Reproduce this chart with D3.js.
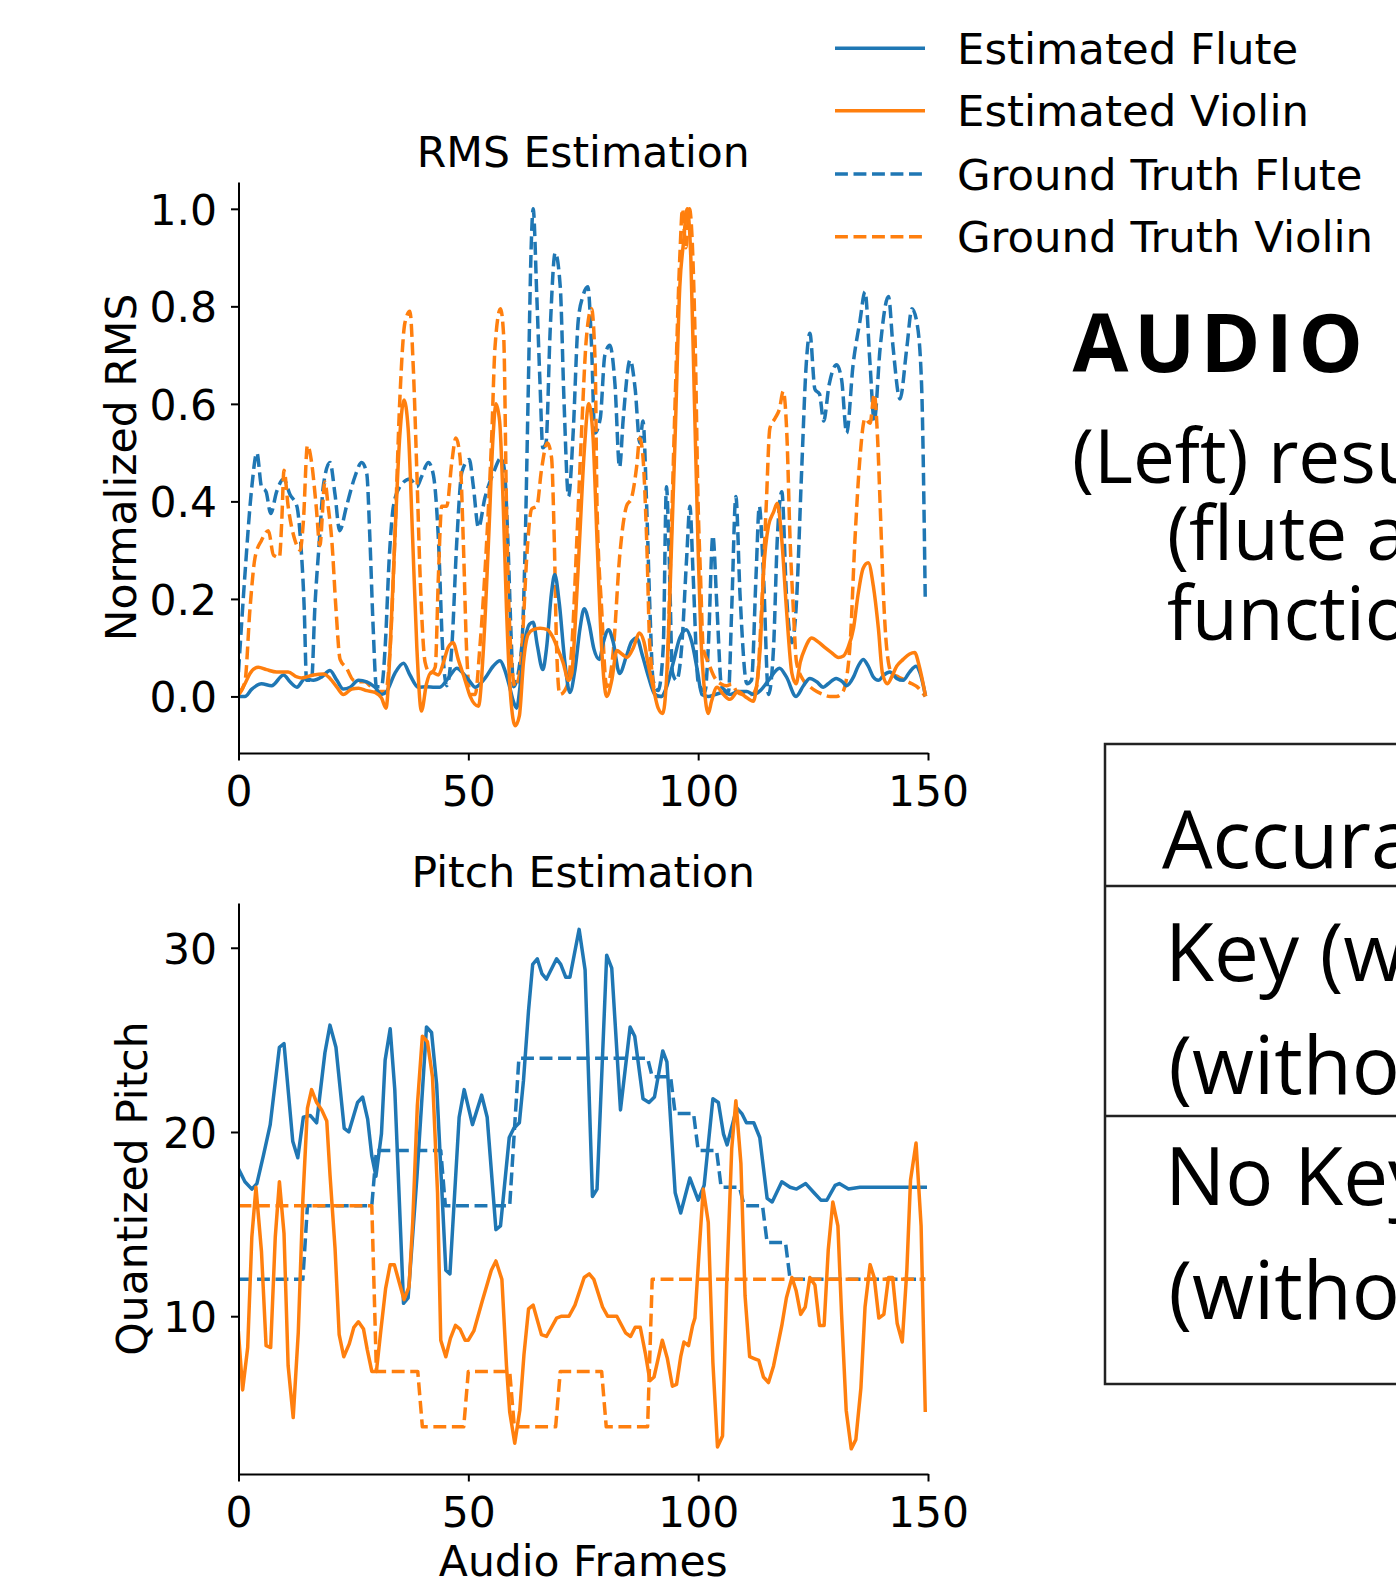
<!DOCTYPE html>
<html><head><meta charset="utf-8">
<script src="https://cdn.jsdelivr.net/npm/d3@7"></script>
<style>html,body{margin:0;padding:0;background:#fff;} svg{display:block}</style>
</head><body>
<script>
// ---------- data (frame, value) ----------
const frameTicks = [0, 50, 100, 150];
const rmsTicks = [0, 0.2, 0.4, 0.6, 0.8, 1.0];
const pitchTicks = [10, 20, 30];
const seriesNames = ["Estimated Flute", "Estimated Violin", "Ground Truth Flute", "Ground Truth Violin"];

const rmsEstFlute = [[0,0],[1.4,0],[2.9,0.015],[5,0.026],[7.2,0.022],[9.8,0.044],[11.2,0.03],[12.7,0.019],[14.5,0.037],[16.3,0.033],[18.1,0.04],[19.9,0.053],[21.4,0.033],[22.8,0.015],[24.3,0.019],[26.1,0.033],[27.9,0.03],[29.7,0.019],[31.1,0.004],[32.2,0.01],[34,0.047],[35.9,0.068],[37.3,0.044],[39.1,0.019],[40.9,0.02],[42.7,0.019],[43.8,0.019],[45.6,0.037],[47.5,0.058],[48.9,0.047],[50.4,0.03],[51.5,0.019],[53.6,0.037],[55.4,0.062],[56.9,0.073],[57.9,0.055],[59,0.019],[59.8,-0.01],[60.5,-0.024],[61.4,0.033],[62.3,0.112],[63.3,0.148],[64.1,0.152],[65,0.105],[66.2,0.055],[67,0.098],[68.1,0.213],[68.8,0.25],[69.8,0.19],[71,0.07],[72.1,0.008],[73.2,0.055],[74.3,0.14],[75.2,0.18],[76.3,0.148],[77.3,0.098],[78.5,0.076],[79.4,0.112],[80.5,0.137],[81.5,0.112],[82.9,0.047],[84.4,0.083],[85.5,0.112],[86.6,0.12],[87.9,0.083],[89.2,0.04],[90.6,0.004],[92,0],[93.1,0.019],[94.6,0.07],[96,0.12],[97.4,0.137],[98.6,0.112],[99.8,0.055],[100.8,0.004],[102.2,0],[103.7,0.004],[105.5,0.008],[106.9,0.004],[108.7,0.01],[110.6,0.01],[112,0.004],[113.5,0.012],[115.3,0.033],[117.7,0.058],[119.2,0.04],[121.3,0],[122.9,0.022],[124.3,0.037],[125.8,0.03],[127.2,0.019],[128.3,0.026],[130,0.037],[131.4,0.03],[132.3,0.022],[133.8,0.04],[134.8,0.062],[135.9,0.076],[137,0.062],[138.1,0.04],[139.2,0.033],[140.4,0.044],[141.7,0.05],[143.2,0.037],[144.6,0.033],[146,0.05],[147.4,0.062],[148.2,0.05],[149.4,0.004]];

const rmsEstViolin = [[0,0.004],[1.4,0.026],[2.5,0.047],[4.3,0.06],[6.1,0.055],[8.3,0.05],[10.8,0.05],[12.7,0.04],[13.7,0.038],[16.3,0.044],[18.5,0.046],[19.9,0.037],[21.4,0.019],[22.8,0.004],[24.6,0.015],[26.1,0.017],[27.9,0.012],[29.7,0.008],[31.1,-0.003],[32.1,-0.024],[33,0.1],[34,0.32],[35.1,0.536],[36,0.608],[36.9,0.55],[37.9,0.32],[38.8,0.1],[39.8,-0.03],[40.9,0.026],[42,0.05],[43.5,0.044],[44.6,0.07],[45.6,0.1],[46.7,0.11],[47.8,0.076],[49.3,0.033],[50.4,0],[52.2,-0.02],[53.3,0.1],[54.4,0.32],[55.4,0.536],[56,0.6],[56.8,0.565],[57.6,0.39],[58.3,0.18],[59.2,0],[60.2,-0.06],[61.1,-0.04],[62,0.07],[63,0.127],[64.1,0.137],[65.6,0.14],[67.2,0.137],[68.3,0.123],[69.6,0.094],[70.6,0.07],[71.8,0.033],[72.5,0.047],[73.2,0.14],[74.2,0.32],[75.2,0.5],[76.2,0.6],[77.1,0.536],[78,0.32],[79,0.1],[80.1,0],[81.2,0.033],[82.3,0.094],[83.4,0.087],[84.5,0.08],[85.9,0.1],[87.2,0.13],[88.2,0.112],[89.2,0.062],[90.2,0.019],[91.3,-0.024],[92.3,-0.035],[93.1,0.033],[94,0.25],[95,0.536],[96,0.84],[96.8,0.93],[97.6,1.0],[98.4,0.9],[99.2,0.6],[100,0.3],[100.6,0.12],[101.3,0.02],[102.2,-0.035],[102.9,-0.01],[104.1,0.019],[105.5,0.004],[106.9,-0.006],[108.7,0.01],[110.2,0],[112,-0.01],[112.7,0.02],[113.5,0.1],[114.2,0.25],[115.3,0.35],[116.4,0.378],[117.2,0.396],[118.2,0.32],[119.2,0.18],[120.4,0.047],[121.3,0.026],[122.2,0.07],[123.3,0.1],[124.7,0.12],[126.1,0.112],[127.6,0.1],[129,0.09],[130.5,0.08],[131.6,0.083],[132.6,0.1],[133.8,0.14],[134.8,0.21],[135.9,0.263],[137,0.274],[138.1,0.227],[139.2,0.14],[140.1,0.047],[141.2,0.026],[142.1,0.04],[143.2,0.062],[144.6,0.076],[146,0.087],[147.1,0.09],[148.1,0.062],[149.4,0.004]];

const rmsGtFlute = [[0,0.05],[1.4,0.25],[2.9,0.43],[4,0.5],[5,0.43],[6,0.42],[7,0.375],[8.3,0.42],[9.8,0.446],[11.2,0.414],[12.7,0.39],[13.5,0.32],[14.3,0.18],[14.8,0.033],[15.9,0.033],[16.6,0.18],[17.6,0.32],[18.5,0.435],[19.9,0.48],[21,0.414],[22,0.34],[23.5,0.39],[25.3,0.45],[26.8,0.48],[27.9,0.457],[28.6,0.32],[29.3,0.14],[30,0.02],[31.1,0.02],[31.9,0.1],[32.8,0.285],[33.7,0.39],[35.1,0.43],[37.3,0.446],[38.8,0.43],[39.8,0.45],[41.3,0.48],[42.4,0.454],[43.5,0.32],[44.4,0.1],[45.3,0.022],[46.4,0.1],[47.5,0.32],[48.6,0.46],[50.2,0.486],[51.1,0.43],[52.2,0.346],[53.6,0.407],[55.4,0.457],[57.2,0.49],[57.9,0.46],[58.6,0.32],[59.4,0.1],[59.8,0.02],[61.6,0.1],[62.3,0.285],[63,0.61],[63.7,0.93],[64.1,1.0],[64.9,0.82],[65.6,0.64],[66.2,0.51],[66.9,0.52],[67.8,0.75],[68.9,0.91],[70,0.84],[70.8,0.61],[71.8,0.41],[72.8,0.54],[73.9,0.77],[74.9,0.82],[76,0.84],[76.8,0.72],[77.5,0.54],[78.7,0.57],[79.7,0.7],[80.8,0.72],[81.9,0.64],[82.9,0.47],[83.7,0.57],[85.2,0.69],[86.3,0.63],[87.3,0.52],[88,0.565],[88.8,0.39],[89.5,0.18],[90.2,0.033],[91.3,0.012],[92.4,0.1],[93.1,0.43],[93.7,0.285],[94.4,0.05],[95.3,0.033],[96.4,0.1],[97.5,0.285],[98.2,0.39],[98.9,0.25],[100,0.03],[101.5,0.01],[102.2,0.1],[103.2,0.33],[104.1,0.18],[105.1,0.02],[106.6,0.01],[107.3,0.18],[108.2,0.41],[109.1,0.21],[110.6,0.026],[111.6,0.033],[112.6,0.25],[113.3,0.39],[114.2,0.25],[115.3,0.004],[116.4,0.1],[117.2,0.32],[118.2,0.42],[119.2,0.21],[120.4,0.11],[121.3,0.18],[122.5,0.46],[123.5,0.68],[124.3,0.745],[125.4,0.63],[126.4,0.62],[127.3,0.565],[128.5,0.64],[130.1,0.68],[131.2,0.65],[132.3,0.54],[133.7,0.68],[135.2,0.77],[136.3,0.83],[137.4,0.68],[138.3,0.565],[139.6,0.716],[141.4,0.82],[142.4,0.716],[143.9,0.61],[145.4,0.716],[146.5,0.795],[147.6,0.766],[148.6,0.64],[149.4,0.2]];

const rmsGtViolin = [[0,0.004],[1.4,0.03],[2.5,0.18],[3.6,0.285],[5,0.32],[6.5,0.34],[7.6,0.29],[8.9,0.285],[9.4,0.357],[9.9,0.464],[10.8,0.39],[12.3,0.32],[13.4,0.3],[14.1,0.357],[15,0.515],[15.9,0.48],[16.9,0.39],[17.7,0.31],[18.8,0.44],[19.5,0.39],[20.3,0.32],[21.2,0.18],[22.1,0.076],[23.5,0.058],[25,0.033],[26.1,0.03],[27.5,0.03],[28.6,0.022],[30,0.01],[32,0.01],[33,0.1],[34,0.32],[35.1,0.61],[36.2,0.766],[37.3,0.79],[38,0.68],[38.8,0.46],[39.5,0.25],[40.6,0.07],[41.7,0.047],[42.8,0.06],[43.5,0.25],[44.2,0.39],[45.3,0.39],[46.4,0.48],[47.3,0.53],[48.2,0.49],[48.9,0.32],[49.6,0.1],[50.4,0.004],[51.5,0.004],[52.5,0.1],[54,0.32],[55.1,0.536],[55.8,0.716],[57,0.795],[57.7,0.737],[58.3,0.39],[59.2,0.1],[60.2,0.02],[61.2,0.05],[61.9,0.14],[62.7,0.285],[63.8,0.385],[64.9,0.39],[65.9,0.464],[67.2,0.52],[68.1,0.49],[68.7,0.32],[69.2,0.1],[69.9,0.004],[71.4,0.02],[72.5,0.1],[73.6,0.32],[74.6,0.536],[75.7,0.737],[76.8,0.795],[77.6,0.68],[78,0.39],[79,0.18],[80.1,0.02],[81.5,0.09],[82.9,0.285],[84.4,0.39],[85.5,0.407],[86.6,0.47],[87.3,0.53],[88,0.49],[88.8,0.32],[89.5,0.1],[91,0],[92,0],[93.1,0.02],[93.9,0.25],[95,0.61],[96,0.9],[96.6,1.0],[97.3,0.92],[98.1,1.0],[99.3,0.75],[100,0.39],[100.5,0.25],[101.1,0.1],[102.2,0.07],[103.5,0.04],[105.1,0.025],[106.2,0.022],[107.3,0.025],[108.4,0.01],[109.5,0.004],[111.6,0.004],[112.7,0.02],[113.8,0.18],[114.8,0.39],[115.6,0.55],[116.7,0.57],[117.7,0.59],[118.5,0.626],[119.3,0.536],[120,0.32],[120.7,0.18],[121.4,0.07],[122.9,0.033],[124.3,0.02],[125.8,0.01],[127.2,0.004],[128.7,0],[130.1,0],[131.5,0.01],[133,0.1],[134.1,0.32],[135.2,0.49],[136.3,0.57],[137.4,0.56],[138.3,0.62],[139,0.536],[139.6,0.39],[140.3,0.21],[141,0.1],[142.1,0.047],[143.6,0.04],[145,0.033],[146.5,0.026],[147.6,0.02],[148.6,0.01],[149.4,0]];

const pitchEstFlute = [[0,18],[1.4,17.3],[2.9,16.9],[4,17.2],[5.4,18.7],[6.9,20.4],[8.9,24.6],[9.9,24.8],[11.8,19.5],[12.9,18.6],[14.1,20.8],[15.6,20.9],[17,20.5],[18.8,24.3],[19.9,25.8],[21.2,24.6],[23,20.2],[24,20],[25.9,21.6],[27,21.9],[28.1,20.7],[29,18.7],[29.9,17.6],[31.1,19.9],[31.9,23.9],[33,25.6],[34,22.3],[35.9,10.7],[36.9,11],[38.8,17.5],[40.9,25.7],[42,25.4],[43.1,22.6],[45.1,12.5],[46,12.3],[48,20.8],[49.1,22.3],[50.9,20.4],[52.9,22],[54.1,20.8],[56,14.7],[57,14.9],[58.9,19.7],[59.9,20.2],[61.1,20.5],[62,22.8],[63.1,26.6],[64,29.1],[65,29.4],[66,28.6],[67,28.3],[69.2,29.4],[70.1,29.1],[71.2,28.4],[72.1,28.4],[74.1,31],[75.4,28.8],[77,16.5],[78,16.9],[80.1,29.6],[81.2,28.9],[83.1,21.2],[85.2,25.7],[86.2,25.2],[88,21.8],[89.3,21.6],[90.5,21.9],[92.3,24.4],[93.2,23.8],[95,16.7],[96.2,15.6],[98.2,17.5],[100,16.3],[101.3,17.1],[103.2,21.8],[104.4,21.6],[105.5,19.9],[106.3,19.3],[108.4,21.3],[109.5,21],[110.5,20.5],[112.1,20.5],[113.4,19.7],[115,16.4],[116.1,16.2],[118.2,17.3],[120,17],[121.4,16.9],[123.4,17.2],[125.2,16.7],[126.7,16.3],[128,16.3],[129.8,17.1],[130.7,17.2],[132.7,16.9],[135.2,17],[149.4,17]];

const pitchEstViolin = [[0,9.1],[0.9,6],[2,8.3],[2.9,14.3],[3.8,17],[5,13.5],[6,8.4],[7,8.3],[8,14.3],[8.9,17.3],[9.9,14.5],[10.8,7.3],[11.9,4.5],[13,9.1],[14,16.3],[15,21.3],[15.9,22.3],[17,21.6],[18.1,21.2],[19.2,20.6],[19.9,17.7],[21,13.7],[21.9,9],[22.9,7.8],[24.1,8.5],[25.1,9.4],[26.1,9.7],[27.2,9.3],[28,8.2],[29,7],[30,7],[31,9.3],[32,11.5],[33,12.8],[33.9,12.8],[35,11.8],[36,10.9],[37.1,11.6],[37.9,15.1],[38.9,21.4],[40,25.2],[41.1,24.9],[42.2,23],[43.3,16.7],[44,8.7],[45.1,7.8],[46.1,8.8],[47.2,9.5],[48.2,9.3],[49.3,8.7],[50,8.7],[51.2,9.2],[53,10.8],[55,12.5],[56,13],[57.3,12],[58.3,7.3],[59,4.8],[60.1,3.1],[61.2,4.9],[62.1,7.9],[63.1,10.4],[64.1,10.6],[65.9,9],[67,8.9],[69.2,9.9],[70.3,10],[71.9,10],[73.2,10.6],[75.2,12.1],[76.3,12.3],[77.3,12],[79.2,10.5],[80.3,10],[82.3,10],[84.2,9.1],[85.3,8.9],[86.3,9.4],[87.4,9.4],[88.5,8],[89.5,6.5],[90.4,6.7],[92.2,8.7],[93.3,7.7],[94.4,6.2],[95.3,6.3],[96.2,7.8],[96.9,8.6],[97.9,8.4],[98.8,9.5],[99.3,9.9],[100.2,13.5],[101.1,16.9],[102.2,15.1],[103.2,7.5],[104.2,2.9],[105.3,3.5],[106.2,11.7],[107.3,19.1],[108.2,21.7],[109.3,18.3],[110.2,11.1],[111.2,7.8],[112.2,7.7],[113.2,7.6],[114.2,6.7],[115.3,6.4],[116.4,7.3],[118.2,9.5],[119.2,11],[120.4,12.1],[121.3,11.4],[122.3,10.1],[123.3,10.5],[124.3,12.1],[125.4,11.7],[126.4,9.5],[127.4,9.5],[128.3,13.6],[129.3,16.2],[130.4,14.9],[131.2,10.1],[132.2,4.9],[133.3,2.8],[134.3,3.3],[135.4,6.1],[136.3,10.5],[137.4,12.8],[138.3,12.1],[139.3,9.9],[140.4,10.1],[141.4,12.1],[142.3,12.1],[143.3,9.6],[144.4,8.6],[145.4,12.5],[146.2,17.4],[147.4,19.4],[148.5,14.9],[149.4,4.9]];

const pitchGtFlute = [[0,12],[14,12],[15,16],[29,16],[30,19],[44,19],[45,16],[59,16],[60,20],[61,24],[89,24],[90,23],[94,23],[95,21],[99,21],[100,19],[104,19],[105,17],[109,17],[110,16],[114,16],[115,14],[119,14],[120,12],[149.4,12]];

const pitchGtViolin = [[0,16],[29,16],[30,7],[39,7],[40,4],[49,4],[50,7],[59,7],[60,4],[69,4],[70,7],[79,7],[80,4],[89,4],[90,12],[149.4,12]];

// ---------- drawing ----------
const W = 1396, H = 1578;
const BLUE = "#1f77b4", ORANGE = "#ff7f0e";
const LW = 3.5;
const DASH = "12.9,5.6";
const FONT = "DejaVu Sans";
const FS = 42.5;

const svg = d3.select("body").append("svg").attr("width", W).attr("height", H);
svg.append("rect").attr("width", W).attr("height", H).attr("fill", "#fff");

const x = d3.scaleLinear().domain([0, 150]).range([238.5, 928]);
const yR = d3.scaleLinear().domain([-0.116, 1.055]).range([753, 182]);
const yP = d3.scaleLinear().domain([1.435, 32.43]).range([1474, 903]);

function panel(y, yTicks, fmt, title, titleY, ylabel, ylabelX, series, curve, clipId, xLabelBaseline) {
  const [yb, yt] = y.range();
  svg.append("clipPath").attr("id", clipId).append("rect")
    .attr("x", x(0)).attr("y", yt).attr("width", x(150) - x(0)).attr("height", yb - yt);
  const g = svg.append("g").attr("clip-path", `url(#${clipId})`);
  const line = d3.line().x(d => x(d[0])).y(d => y(d[1])).curve(curve);
  series.forEach(s => {
    g.append("path").datum(s.data).attr("d", line)
      .attr("fill", "none").attr("stroke", s.color).attr("stroke-width", LW)
      .attr("stroke-dasharray", s.dashed ? DASH : null)
      .attr("stroke-linejoin", "round").attr("stroke-linecap", s.dashed ? "butt" : "square");
  });
  const ax = svg.append("g").attr("transform", `translate(0,${yb})`)
    .call(d3.axisBottom(x).tickValues(frameTicks).tickSize(7.5).tickSizeOuter(0).tickFormat(d3.format("d")));
  ax.select(".domain").attr("stroke", "#000").attr("stroke-width", 2);
  ax.selectAll(".tick line").attr("stroke", "#000").attr("stroke-width", 2);
  ax.selectAll(".tick text").attr("dy", null).attr("y", xLabelBaseline - yb)
    .attr("font-family", FONT).attr("font-size", FS).attr("fill", "#000");
  const ay = svg.append("g").attr("transform", `translate(${x(0)},0)`)
    .call(d3.axisLeft(y).tickValues(yTicks).tickSize(7.5).tickSizeOuter(0).tickFormat(fmt));
  ay.select(".domain").attr("stroke", "#000").attr("stroke-width", 2);
  ay.selectAll(".tick line").attr("stroke", "#000").attr("stroke-width", 2);
  ay.selectAll(".tick text").attr("dy", "0.36em").attr("x", -21.5)
    .attr("font-family", FONT).attr("font-size", FS).attr("fill", "#000");
  ax.attr("font-family", FONT); ay.attr("font-family", FONT);
  svg.append("text").attr("x", (x(0) + x(150)) / 2).attr("y", titleY)
    .attr("text-anchor", "middle").attr("font-family", FONT).attr("font-size", FS).text(title);
  svg.append("text").attr("transform", `translate(${ylabelX},${(yb + yt) / 2}) rotate(-90)`)
    .attr("text-anchor", "middle").attr("font-family", FONT).attr("font-size", FS).text(ylabel);
}

panel(yR, rmsTicks, d3.format(".1f"), "RMS Estimation", 167, "Normalized RMS", 136,
  [{data: rmsGtFlute, color: BLUE, dashed: true},
   {data: rmsGtViolin, color: ORANGE, dashed: true},
   {data: rmsEstFlute, color: BLUE, dashed: false},
   {data: rmsEstViolin, color: ORANGE, dashed: false}],
  d3.curveMonotoneX, "clipR", 806);

panel(yP, pitchTicks, d3.format("d"), "Pitch Estimation", 886.7, "Quantized Pitch", 147,
  [{data: pitchGtFlute, color: BLUE, dashed: true},
   {data: pitchGtViolin, color: ORANGE, dashed: true},
   {data: pitchEstFlute, color: BLUE, dashed: false},
   {data: pitchEstViolin, color: ORANGE, dashed: false}],
  d3.curveLinear, "clipP", 1527);

svg.append("text").attr("x", (x(0) + x(150)) / 2).attr("y", 1576)
  .attr("text-anchor", "middle").attr("font-family", FONT).attr("font-size", FS).text("Audio Frames");

// legend
const legendColors = [BLUE, ORANGE, BLUE, ORANGE];
const legendDashed = [false, false, true, true];
const legendY = [48.3, 110.7, 174, 236.7];
seriesNames.forEach((name, i) => {
  svg.append("line").attr("x1", 835).attr("x2", 925).attr("y1", legendY[i]).attr("y2", legendY[i])
    .attr("stroke", legendColors[i]).attr("stroke-width", LW)
    .attr("stroke-dasharray", legendDashed[i] ? DASH : null);
  svg.append("text").attr("x", 957).attr("y", legendY[i] + 15.5)
    .attr("font-family", FONT).attr("font-size", 43.4).text(name);
});

// ---------- right-hand text (cut by the page edge) ----------
const SANS = "Open Sans";
svg.append("text").attr("x", 1072.5).attr("y", 372).attr("font-family", SANS)
  .attr("font-weight", 700).attr("font-size", 81).attr("letter-spacing", 5.5).text("AUDIO");
[["(Left) results", 1072, 483.3], ["(flute and", 1167, 560], ["function", 1167, 640]].forEach(([t, tx, ty]) => {
  svg.append("text").attr("x", tx).attr("y", ty).attr("font-family", SANS)
    .attr("font-size", 74.6).text(t);
});
// table
svg.append("rect").attr("x", 1105).attr("y", 744).attr("width", 400).attr("height", 640)
  .attr("fill", "none").attr("stroke", "#222").attr("stroke-width", 2.5);
[886, 1116].forEach(yy => svg.append("line").attr("x1", 1105).attr("x2", W).attr("y1", yy).attr("y2", yy)
  .attr("stroke", "#222").attr("stroke-width", 2.5));
[["Accuracy", 1162, 867.6], ["Key (with", 1165, 981], ["(without", 1168.5, 1094], ["No Key", 1165, 1205], ["(without", 1168.5, 1318.5]].forEach(([t, tx, ty]) => {
  svg.append("text").attr("x", tx).attr("y", ty).attr("font-family", SANS)
    .attr("font-size", 80).text(t);
});
</script>
</body></html>
